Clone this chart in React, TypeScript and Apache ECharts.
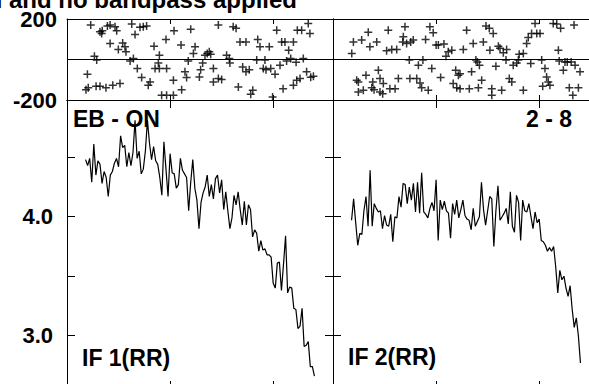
import React, { useEffect, useRef } from "react";
import * as echarts from "echarts";

const TITLE = "l and no bandpass applied";
const LABEL_SOURCE = "EB - ON";
const LABEL_BASELINE = "2 - 8";
const LABEL_IF1 = "IF 1(RR)";
const LABEL_IF2 = "IF 2(RR)";

// channel numbers of the spectra
const CHANNELS = Array.from({ length: 112 }, (_, i) => 9 + i);

// amplitude spectra
const IF1_AMP = [
  4.48, 4.43, 4.49, 4.29, 4.61, 4.35, 4.47, 4.44, 4.28, 4.38,
  4.33, 4.17, 4.35, 4.38, 4.45, 4.49, 4.42, 4.68, 4.58, 4.60,
  4.42, 4.54, 4.43, 4.54, 4.81, 4.49, 4.55, 4.36, 4.40, 4.55,
  4.81, 4.62, 4.48, 4.59, 4.47, 4.44, 4.33, 4.18, 4.63, 4.40,
  4.17, 4.53, 4.37, 4.36, 4.24, 4.27, 4.49, 4.39, 4.36, 4.33,
  4.05, 4.29, 4.48, 4.24, 4.14, 3.90, 4.12, 4.20, 4.25, 4.35,
  4.17, 4.27, 4.15, 4.32, 4.35, 4.20, 4.31, 4.06, 4.21, 4.05,
  3.90, 3.99, 4.18, 4.10, 4.21, 4.06, 3.93, 4.13, 3.93, 4.10,
  4.06, 3.83, 3.89, 3.86, 3.71, 3.80, 3.72, 3.73, 3.68, 3.68,
  3.66, 3.44, 3.40, 3.61, 3.62, 3.38, 3.60, 3.84, 3.36, 3.41,
  3.40, 3.23, 3.22, 3.06, 3.08, 3.23, 2.91, 2.92, 2.95, 2.74, 2.74, 2.66,
];

const IF2_AMP = [
  3.97, 4.15, 3.95, 3.76, 3.86, 3.85, 4.05, 4.17, 3.92, 4.39,
  3.92, 4.11, 4.07, 4.04, 4.05, 3.90, 4.01, 3.93, 3.92, 4.02,
  3.79, 4.00, 3.99, 4.17, 4.08, 4.28, 4.27, 4.11, 4.25, 4.14,
  4.28, 4.04, 4.29, 4.03, 4.37, 4.04, 4.02, 3.99, 4.07, 4.12,
  4.05, 4.31, 3.80, 4.14, 4.06, 4.13, 4.05, 4.03, 3.82, 4.11,
  4.02, 4.14, 3.99, 4.06, 4.14, 4.01, 3.98, 3.97, 3.89, 4.07,
  3.92, 3.96, 4.00, 4.29, 4.06, 3.93, 4.05, 4.17, 4.15, 3.75,
  4.05, 4.26, 3.97, 4.00, 4.03, 4.07, 3.94, 4.21, 3.92, 3.87,
  4.18, 4.12, 3.80, 4.14, 4.05, 4.04, 4.11, 4.00, 3.90, 4.04,
  3.95, 3.98, 3.80, 3.79, 3.76, 3.71, 3.74, 3.71, 3.75, 3.58,
  3.36, 3.55, 3.47, 3.50, 3.40, 3.33, 3.42, 3.22, 3.07, 3.15, 3.00, 2.77,
];

// phase points [channel, degrees]
const IF1_PHASE = [
  [9.9, -73], [9.2, -149], [10.3, -139], [11.5, 170], [13.3, 16], [14.4, -2],
  [14.1, -132], [16, -132], [16, 137], [16.8, 129], [17.1, 142], [18.9, -139],
  [19.6, 165], [20.9, 170], [20.9, 79], [22.2, -127], [23.3, 162], [24.1, 142],
  [24.9, 50], [25.7, -119], [27, 82], [28.1, 63], [28.6, 38], [30.6, -8],
  [32.2, 5], [31.4, 175], [33, 124], [34.1, -45], [35.4, 159], [37, 162],
  [38.6, 165], [36.2, -89], [39.4, -127], [40.3, -111], [42.2, 66], [42.7, -45],
  [44.8, -45], [44.3, -17], [44.8, 21], [45.9, -177], [48.3, -177], [51.6, -177],
  [48, 99], [48.3, -45], [51.6, -103], [51.9, 142], [55.3, 71], [55.6, -149],
  [57.2, -61], [58, -89], [58.8, -8], [60, 149], [61.3, 30], [62.1, 63],
  [64.2, -86], [64.8, -50], [65.8, -17], [66.9, 21], [68, 30], [69, 38],
  [69.7, 26], [71, -45], [71, -111], [73.4, -94], [75, -99], [73.4, 170],
  [77.4, 21], [78.7, 5], [79, -17], [80.6, 162], [82, 154], [83.1, -136],
  [83.9, 87], [86.8, 87], [85.2, -37], [86.8, -61], [88.4, -50], [89.1, -172],
  [90.1, -152], [92, -3], [92.5, 99], [93.6, 63], [95.2, -45], [96, -3],
  [96.5, -50], [98.1, 63], [98.8, -45], [99.7, -185], [100.9, -73], [101.7, 145],
  [103.3, -28], [104.1, 87], [105.7, 87], [104.8, -144], [106.5, -7], [107.5, 46],
  [108.5, 5], [109.8, 87], [109.8, -127], [111.4, -103], [111.1, -13], [111.7, 145],
  [113.8, 145], [117, 178], [117.8, 129], [114.6, 5], [113, -94], [116.2, -61],
  [119.5, -83], [118.2, -88],
];

const IF2_PHASE = [
  [9.1, 30], [9.9, 87], [13.9, 96], [11.5, -103], [12.3, -111], [12.3, -161],
  [14.7, -152], [16, -78], [17.1, 134], [17.9, 63], [19.3, -111], [19.9, -149],
  [21.2, 87], [22, -53], [22.8, -94], [24.1, -169], [24.4, -119], [26, 43],
  [26.8, 145], [27.6, -144], [28.5, 50], [30.1, -144], [30.9, 50], [31.7, -94],
  [33.8, 87], [34.1, 112], [34.9, 162], [35.7, 79], [37, -3], [37.3, -94],
  [38.9, 96], [40.6, -94], [41.4, -28], [42.2, -116], [43.6, -3], [44.9, 99],
  [46.2, -152], [47, 162], [47.9, -45], [48.6, 132], [50, 71], [52.2, -89],
  [53.8, 76], [54.8, 16], [55.9, 38], [58.3, -119], [59.5, -53], [60, -139],
  [60.8, -78], [61.6, -144], [63.2, 50], [64.8, 145], [66.1, -144], [67.2, -61],
  [68, 79], [69.3, -3], [70.5, -139], [71, -28], [72.1, -103], [72.9, 87],
  [74.2, 165], [76.1, 46], [77, -144], [77.7, 129], [79, -33], [80.2, 66],
  [81.8, -152], [82.6, 33], [84.2, 50], [85.5, -94], [86.7, -111], [87.4, -28],
  [89.1, -17], [90.3, 26], [92.3, -152], [93.9, 79], [94.7, 109], [95.9, -20],
  [96.3, 129], [98, 178], [98.8, 129], [101.2, -3], [101.7, -132], [102.8, -45],
  [103.6, -86], [106.8, 178], [109.3, 46], [109.7, -7], [110.4, 154], [111.7, -53],
  [113.6, -12], [114.6, -139], [116.3, -177], [116.9, 170], [117.4, -28], [119, -139],
  [119.8, -61],
  [37.7, 87], [51.1, 71], [57.6, 46], [75.8, 154], [81, 55], [100.4, 129],
  [108.5, 175], [70, -12], [83.9, -3], [89.9, -3], [92.3, 30], [112.5, -12],
  [115.5, -12], [61.6, -70], [104.4, -111], [18.8, -139], [22.8, -161], [43, -139],
  [77, -177], [105.2, -127],
];

const AMP_TICKS = [3.0, 3.5, 4.0, 4.5];
const AMP_LABELS = [3.0, 4.0];
const AMP_MIN = 2.552;
const AMP_MAX = 4.981;
const PHASE_MIN = -200;
const PHASE_MAX = 200;
const PHASE_STEP = 200;
const CH_MIN = 0;
const CH_MAX = 129;
const CH_STEP = 50;

const FONT = "'Liberation Sans', Arial, Helvetica, sans-serif";
const BLACK = "#000";
const PLUS = "path://M3.25,0H4.75V3.25H8V4.75H4.75V8H3.25V4.75H0V3.25H3.25Z";

function xAxesFor(gridIndex: number, tickLen: number) {
  return ["bottom", "top"].map((position) => ({
    type: "value",
    gridIndex,
    position,
    min: CH_MIN,
    max: CH_MAX,
    interval: CH_STEP,
    axisLine: { show: true, onZero: false, lineStyle: { color: BLACK, width: 1 } },
    axisTick: { show: true, inside: true, length: tickLen, lineStyle: { color: BLACK, width: 1 } },
    axisLabel: { show: false },
    splitLine: { show: false },
  }));
}

const labelStyle = {
  color: BLACK,
  fontFamily: FONT,
  fontWeight: "bold" as const,
  fontSize: 22,
};

function phaseAxesFor(gridIndex: number, showLabels: boolean) {
  return ["left", "right"].map((position) => ({
    type: "value",
    gridIndex,
    position,
    min: PHASE_MIN,
    max: PHASE_MAX,
    interval: PHASE_STEP,
    axisLine: { show: true, onZero: false, lineStyle: { color: BLACK, width: 1 } },
    axisTick: { show: true, inside: true, length: 5, lineStyle: { color: BLACK, width: 1 } },
    axisLabel: {
      show: showLabels && position === "left",
      margin: 10,
      formatter: (v: number) => (v === 0 ? "" : String(v)),
      ...labelStyle,
    },
    splitLine: { show: position === "left", lineStyle: { color: BLACK, width: 1 } },
  }));
}

function ampAxesFor(gridIndex: number, showLabels: boolean) {
  return ["left", "right"].map((position) => ({
    type: "value",
    gridIndex,
    position,
    min: AMP_MIN,
    max: AMP_MAX,
    axisLine: { show: true, onZero: false, lineStyle: { color: BLACK, width: 1 } },
    axisTick: {
      show: true,
      inside: true,
      length: 8,
      customValues: AMP_TICKS,
      lineStyle: { color: BLACK, width: 1 },
    },
    axisLabel: {
      show: showLabels && position === "left",
      customValues: AMP_LABELS,
      margin: 14,
      formatter: (v: number) => v.toFixed(1),
      ...labelStyle,
    },
    splitLine: { show: false },
  }));
}

export default function App() {
  const ref = useRef<HTMLDivElement>(null);

  useEffect(() => {
    document.body.style.margin = "0";
    if (!ref.current) return;
    const chart = echarts.init(ref.current, null, { renderer: "svg" });

    const grids = [
      { left: 67, top: 19, width: 266, height: 81 },
      { left: 333, top: 19, width: 266, height: 81 },
      { left: 67, top: 100, width: 266, height: 289 },
      { left: 333, top: 100, width: 266, height: 289 },
    ].map((g) => ({ ...g, containLabel: false, outerBoundsMode: "none", show: false }));

    const xAxis = [
      ...xAxesFor(0, 5),
      ...xAxesFor(1, 5),
      ...xAxesFor(2, 8),
      ...xAxesFor(3, 8),
    ];
    const yAxis = [
      ...phaseAxesFor(0, true),
      ...phaseAxesFor(1, false),
      ...ampAxesFor(2, true),
      ...ampAxesFor(3, false),
    ];

    const scatterCommon = {
      type: "scatter",
      symbol: PLUS,
      symbolSize: 8,
      itemStyle: { color: BLACK },
      silent: true,
    };
    const lineCommon = {
      type: "line",
      showSymbol: false,
      symbol: "none",
      lineStyle: { color: BLACK, width: 1.2 },
      silent: true,
    };

    const textStyle = (text: string, align: string) => ({
      text,
      fill: BLACK,
      fontFamily: FONT,
      fontWeight: "bold",
      fontSize: 23,
      align,
      verticalAlign: "middle",
    });

    chart.setOption({
      animation: false,
      backgroundColor: "#fff",
      grid: grids,
      xAxis,
      yAxis,
      series: [
        { ...scatterCommon, xAxisIndex: 0, yAxisIndex: 0, data: IF1_PHASE },
        { ...scatterCommon, xAxisIndex: 2, yAxisIndex: 2, data: IF2_PHASE },
        {
          ...lineCommon,
          xAxisIndex: 4,
          yAxisIndex: 4,
          data: CHANNELS.map((c, i) => [c, IF1_AMP[i]]),
        },
        {
          ...lineCommon,
          xAxisIndex: 6,
          yAxisIndex: 6,
          data: CHANNELS.map((c, i) => [c, IF2_AMP[i]]),
        },
      ],
      graphic: [
        { type: "text", x: 297, y: -1, style: { ...textStyle(TITLE, "right"), fontSize: 24 } },
        { type: "text", x: 73, y: 118.5, style: textStyle(LABEL_SOURCE, "left") },
        { type: "text", x: 572, y: 118.5, style: textStyle(LABEL_BASELINE, "right") },
        { type: "text", x: 82, y: 358, style: textStyle(LABEL_IF1, "left") },
        { type: "text", x: 348, y: 357, style: textStyle(LABEL_IF2, "left") },
      ],
    });

    return () => chart.dispose();
  }, []);

  return <div ref={ref} style={{ width: 589, height: 384 }} />;
}
